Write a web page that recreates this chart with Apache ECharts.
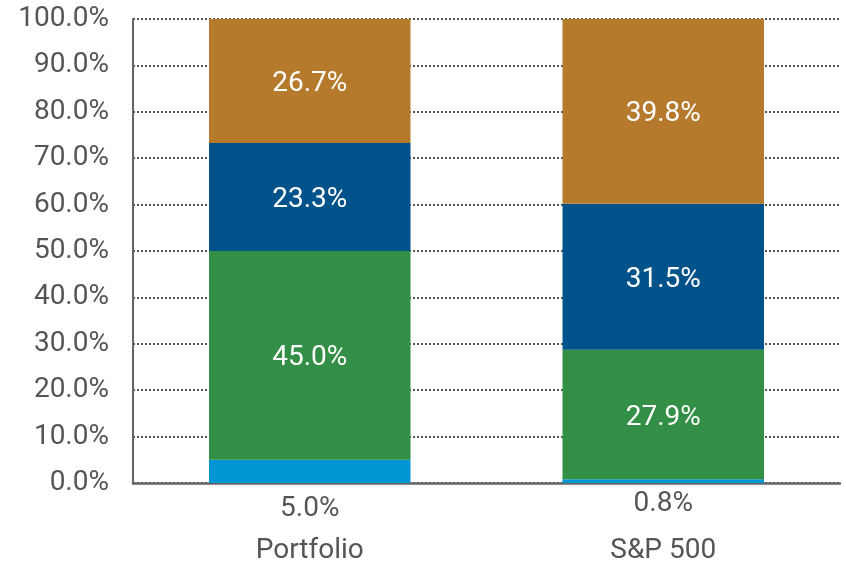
<!DOCTYPE html>
<html><head><meta charset="utf-8">
<script src="https://cdn.jsdelivr.net/npm/echarts@6/dist/echarts.min.js"></script>
<style>html,body{margin:0;padding:0;background:#fff}#c{width:846px;height:563px}</style>
</head><body><div id="c"></div>
<script>
var categories = ['Portfolio', 'S&P 500'];
var seriesNames = ['Cash', 'Green', 'Blue', 'Orange'];
var cashValues = [5.0, 0.8];
var greenValues = [45.0, 27.9];
var blueValues = [23.3, 31.5];
var orangeValues = [26.7, 39.8];
var colors = ['#0095D5', '#338F46', '#00538A', '#B57A2C'];
var cashLabelDistance = [12, 7];

var FONT = 'Roboto';
var FS = 28;
function pct(v){ return v.toFixed(1) + '%'; }

var inside = {show:true, position:'inside', color:'#fff', fontSize:FS, fontFamily:FONT,
  offset:[0,3], formatter:function(p){return pct(p.value);}};

var chart = echarts.init(document.getElementById('c'));
chart.setOption({
  animation:false,
  grid:{left:133, right:6, top:19, bottom:80, outerBoundsMode:'none'},
  xAxis:{type:'category', data:categories,
    axisLine:{lineStyle:{color:'#666', width:2.5}},
    axisTick:{show:false},
    axisLabel:{color:'#555', fontSize:FS, fontFamily:FONT, margin:54}},
  yAxis:{type:'value', min:0, max:100, interval:10,
    axisLine:{show:true, lineStyle:{color:'#666', width:2}},
    axisTick:{show:false},
    axisLabel:{color:'#555', fontSize:FS, fontFamily:FONT, margin:24,
      formatter:function(v){return v.toFixed(1)+'%';}},
    splitLine:{show:true, lineStyle:{color:'#555', type:[2,2], width:2}}},
  series:[
    {name:seriesNames[0], type:'bar', stack:'s', barWidth:'57%', itemStyle:{color:colors[0]},
      data:cashValues.map(function(v,i){return {value:v, label:{show:true, position:'bottom',
        distance:cashLabelDistance[i], color:'#555', fontSize:FS, fontFamily:FONT,
        formatter:function(p){return pct(p.value);}}};})},
    {name:seriesNames[1], type:'bar', stack:'s', itemStyle:{color:colors[1]}, label:inside, data:greenValues},
    {name:seriesNames[2], type:'bar', stack:'s', itemStyle:{color:colors[2]}, label:inside, data:blueValues},
    {name:seriesNames[3], type:'bar', stack:'s', itemStyle:{color:colors[3]}, label:inside, data:orangeValues}
  ]
});
</script></body></html>
